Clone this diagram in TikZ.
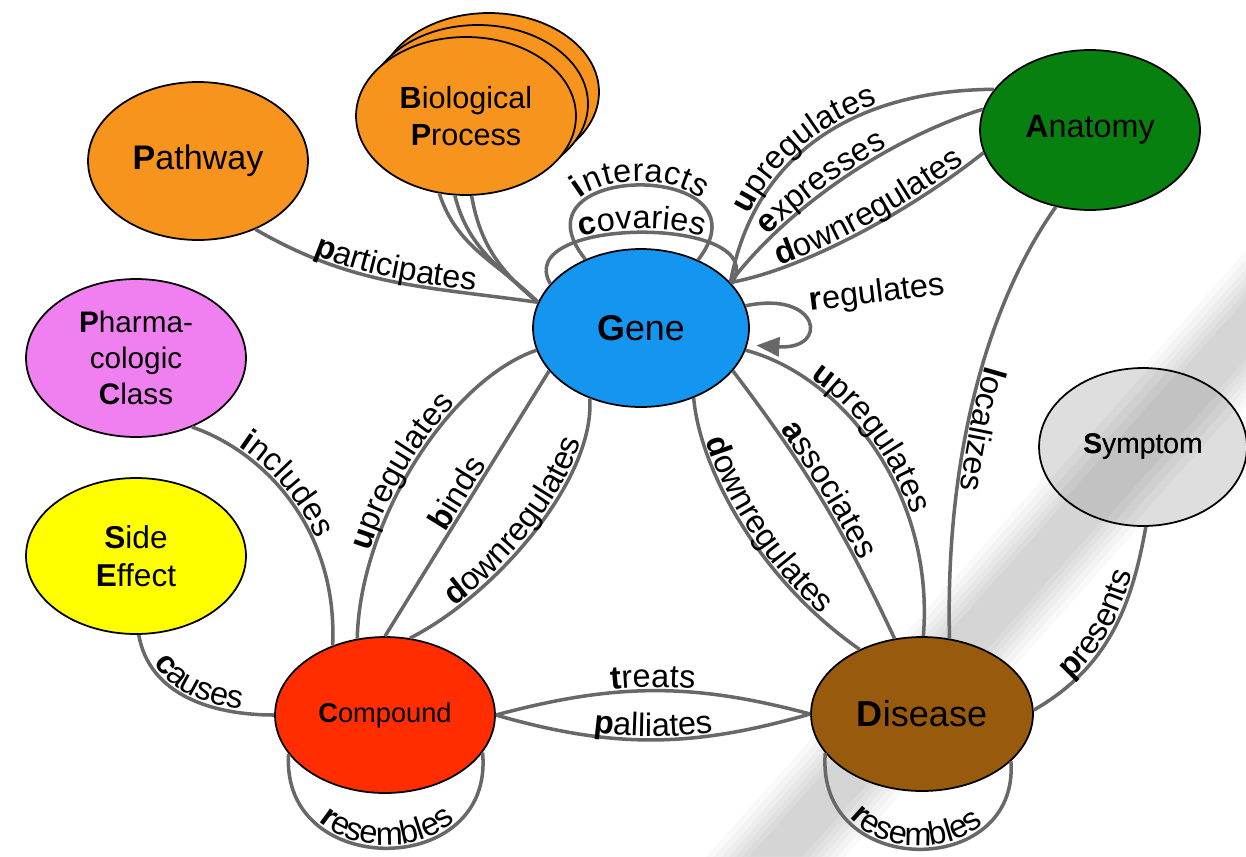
\documentclass[tikz,border=0pt]{standalone}
\usepackage{fontspec}
\setmainfont{Liberation Sans}
\usetikzlibrary{shapes.geometric, decorations.text, arrows.meta}

\definecolor{edgegray}{RGB}{104,104,104}
\definecolor{cOrange}{RGB}{247,148,30}
\definecolor{cGene}{RGB}{20,150,240}
\definecolor{cAnat}{RGB}{8,128,16}
\definecolor{cPharm}{RGB}{240,128,240}
\definecolor{cSide}{RGB}{255,255,0}
\definecolor{cComp}{RGB}{255,45,0}
\definecolor{cDis}{RGB}{152,90,12}
\definecolor{cSymp}{RGB}{222,222,222}

\newcommand\lblf{\fontsize{18.5}{20}\selectfont}
\newcommand\fs[2]{\fontsize{#1}{#2}\selectfont}

\tikzset{
  entity/.style={ellipse, draw=black, line width=1pt, minimum width=4.4cm,
    minimum height=3.16cm, inner sep=0pt, align=center},
  edge/.style={draw=edgegray, line width=2pt},
  lab/.style n args={3}{postaction={decorate, decoration={text along path,
    text={|\lblf\bfseries|#1|\lblf|#2}, text align={#3}, raise=2pt}}},
  bandlayers/.style={black, opacity=#1},
}

\begin{document}
\begin{tikzpicture}[x=0.02cm, y=-0.02cm]
\useasboundingbox (0,0) rectangle (1246,856);
\fill[white] (0,0) rectangle (1246,856);

% soft diagonal grey band in the background
\begin{scope}[shift={(1011.5,592)}, rotate=48.3]
  \foreach \w in {52,46,40,35,30,25,20}
    \fill[bandlayers=0.022] (-460,-\w) rectangle (460,\w);
\end{scope}

% entity types
\node[entity, fill=cOrange, font=\fs{19.4}{22}] (pathway) at (198,161) {\textbf{P}athway};
\node[entity, fill=cOrange] (bpback) at (489,92) {};
\node[entity, fill=cOrange] (bpmid) at (478,104) {};
\node[entity, fill=cOrange, font=\fs{17.4}{21}] (bp) at (466,116) {\textbf{B}iological\\\textbf{P}rocess};
\node[entity, fill=cGene, minimum width=4.32cm, font=\fs{20.4}{22}] (gene) at (641,328) {\textbf{G}ene};
\node[entity, fill=cAnat, minimum height=3.2cm, font=\fs{18.4}{22}] (anatomy) at (1090,130) {\textbf{A}natomy};
\node[entity, fill=cPharm, font=\fs{16.9}{20.5}] (pharm) at (136,358) {\textbf{P}harma-\\cologic\\\textbf{C}lass};
\node[entity, fill=cSide, minimum height=3.12cm, font=\fs{18}{21.5}] (side) at (136,556) {\textbf{S}ide\\\textbf{E}ffect};
\node[entity, fill=cComp, minimum height=3.12cm, font=\fs{15.5}{18}] (compound) at (385,715) {\textbf{C}ompound};
\node[entity, fill=cDis, minimum width=4.44cm, minimum height=3.08cm, font=\fs{20.5}{22}] (disease) at (922,714) {\textbf{D}isease};
\node[entity, fill=cSymp, minimum width=4.16cm, font=\fs{16.1}{18}] (symptom) at (1143,447) {\textbf{S}ymptom};

% band seen through the symptom node
\begin{scope}
  \clip (symptom.center) ellipse [x radius=2.08cm, y radius=1.58cm];
  \begin{scope}[shift={(1011.5,592)}, rotate=48.3]
    \foreach \w in {46,38,30,22}
      \fill[bandlayers=0.03] (-460,-\w) rectangle (460,\w);
  \end{scope}
\end{scope}
\node[font=\fs{16.1}{18}] (symptomtext) at (symptom.center) {\textbf{S}ymptom};

% pathway and biological process
\draw[edge, lab={p}{articipates}{center}] (pathway.-50) to[out=-30, in=172] (gene.166);
\draw[edge] (bp.-109) to[out=-72, in=135] (gene.166);
\draw[edge] (bp.-98) to[out=-76, in=138] (gene.166);
\draw[edge] (bp.-86) to[out=-80, in=141] (gene.166);

% gene self relations
\draw[edge, lab={i}{nteracts}{center}] (gene.129) .. controls (505,160) and (775,160) .. (gene.50);
\draw[edge, lab={c}{ovaries}{center}] (gene.154) .. controls (510,215) and (775,215) .. (gene.26);
\draw[edge, -{Triangle[length=0.46cm,width=0.38cm]}, shorten >=0.18cm]
  (gene.12) .. controls (820,290) and (830,350) .. (gene.-9);
\node[font=\lblf, rotate=7] (reglabel) at (877,294) {\textbf{r}egulates};

% gene - anatomy
\draw[edge, lab={u}{pregulates}{left indent=1.4cm}] (gene.27) .. controls (755,150) and (860,90) .. (anatomy.157);
\draw[edge, lab={e}{xpresses}{left indent=1.2cm}] (gene.27) .. controls (785,210) and (885,140) .. (anatomy.169);
\draw[edge, lab={d}{ownregulates}{left indent=1.04cm}] (gene.27) .. controls (800,270) and (905,215) .. (anatomy.192);

% anatomy - disease
\draw[edge, lab={l}{ocalizes}{left indent=3.5cm}] (anatomy.-114) .. controls (990,300) and (945,450) .. (disease.70);

% gene - disease
\draw[edge, lab={u}{pregulates}{left indent=1.4cm}] (gene.-12) .. controls (840,375) and (935,490) .. (disease.89);
\draw[edge, lab={a}{ssociates}{left indent=1.5cm}] (gene.-25) to[bend left=6] (disease.110);
\draw[edge, lab={d}{ownregulates}{left indent=0.9cm}] (gene.-53) .. controls (700,470) and (760,580) .. (disease.134);

% compound - gene
\draw[edge, lab={u}{pregulates}{left indent=1.75cm}] (compound.110) .. controls (360,520) and (450,380) .. (gene.192);
\draw[edge, lab={b}{inds}{left indent=2.4cm}] (compound.90) -- (gene.205);
\draw[edge, lab={d}{ownregulates}{left indent=1.1cm}] (compound.72) .. controls (495,595) and (595,480) .. (gene.234);

% compound neighbours
\draw[edge, lab={i}{ncludes}{left indent=1.0cm}] (pharm.-51) .. controls (265,452) and (338,530) .. (compound.127);
\draw[edge, lab={c}{auses}{center}] (side.-88) to[out=-80, in=180] (compound.180);
\draw[edge, lab={t}{reats}{center}] (compound.0) to[out=15, in=165] (disease.180);
\draw[edge, lab={p}{alliates}{center}] (compound.0) to[out=-16, in=-164] (disease.180);
\draw[edge, lab={r}{esembles}{center}] (compound.-158) .. controls (280,880) and (495,880) .. (compound.-21);

% disease neighbours
\draw[edge, lab={p}{resents}{center}] (disease.2) to[out=30, in=-100] (symptom.-88);
\draw[edge, lab={r}{esembles}{center}] (disease.-158) .. controls (815,880) and (1020,880) .. (disease.-28);
\end{tikzpicture}
\end{document}
